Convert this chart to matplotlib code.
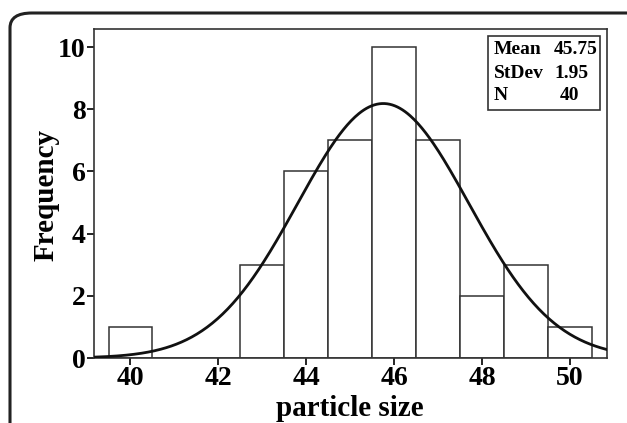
import numpy as np
import matplotlib
matplotlib.use("Agg")
import matplotlib.pyplot as plt
from matplotlib.patches import FancyBboxPatch, Rectangle

# histogram data
bin_centers = [40, 41, 42, 43, 44, 45, 46, 47, 48, 49, 50]
counts = [1, 0, 0, 3, 6, 7, 10, 7, 2, 3, 1]
mean_val = 45.75
std_val = 1.95
n_val = 40
x_ticks = [40, 42, 44, 46, 48, 50]
y_ticks = [0, 2, 4, 6, 8, 10]
stat_names = ['Mean', 'StDev', 'N']
stat_values = ['45.75', '1.95', '40']

plt.rcParams['font.family'] = ['Liberation Serif', 'DejaVu Serif']
plt.rcParams['font.weight'] = 'bold'

W, H = 627, 423
fig = plt.figure(figsize=(W / 100, H / 100), dpi=100)
ax = fig.add_axes([94 / W, 1 - 358 / H, (607 - 94) / W, (358 - 29) / H])

# outer rounded frame, cut off at right and bottom
frame = FancyBboxPatch((10 / W, -0.2), 1.2, 1.2 - 13 / H,
                       boxstyle="round,pad=0,rounding_size=0.035",
                       transform=fig.transFigure, fill=False,
                       edgecolor='#222222', linewidth=2.2)
fig.patches.append(frame)

ax.bar(bin_centers, counts, width=1.0, color='white', edgecolor='#333333',
       linewidth=1.1, zorder=2)

xs = np.linspace(39.17, 50.84, 400)
curve = n_val / (std_val * np.sqrt(2 * np.pi)) * np.exp(-0.5 * ((xs - mean_val) / std_val) ** 2)
ax.plot(xs, curve, color='#111111', linewidth=2.0, zorder=3)

ax.set_xlim(39.17, 50.84)
ax.set_ylim(0, 10.58)
ax.set_xticks(x_ticks)
ax.set_yticks(y_ticks)
ax.tick_params(direction='out', length=5, width=1.2, labelsize=20, pad=1)
for lab in ax.get_xticklabels() + ax.get_yticklabels():
    lab.set_fontweight('bold')
for sp in ax.spines.values():
    sp.set_linewidth(1.2)
    sp.set_color('#333333')

fig.text(350 / W, 1 - 408 / H, 'particle size', fontsize=21, fontweight='bold',
         ha='center', va='center')
fig.text(46 / W, 1 - 195 / H, 'Frequency', fontsize=21, fontweight='bold',
         ha='center', va='center', rotation=90)

# stats box
box = Rectangle((488 / W, 1 - 110 / H), 112 / W, 74 / H, transform=fig.transFigure,
                facecolor='white', edgecolor='#333333', linewidth=1.2, zorder=5)
fig.patches.append(box)
row_y = [50, 73, 96]
val_x = [554, 554, 560]
for name, val, y, vx in zip(stat_names, stat_values, row_y, val_x):
    fig.text(494 / W, 1 - y / H, name, fontsize=14, fontweight='bold',
             ha='left', va='center', zorder=6)
    fig.text(vx / W, 1 - y / H, val, fontsize=14, fontweight='bold',
             ha='left', va='center', zorder=6)

fig.savefig('out.png', dpi=100)
